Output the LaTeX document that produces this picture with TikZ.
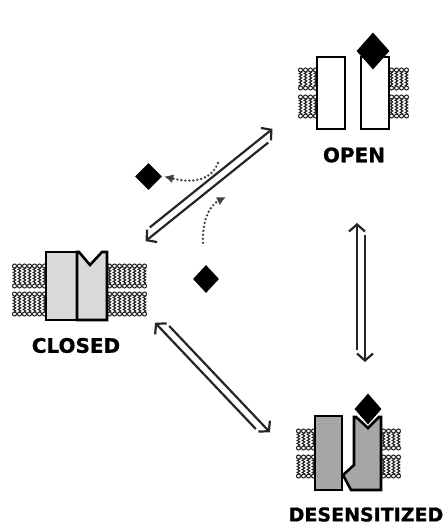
\documentclass[tikz,border=0pt]{standalone}
\usepackage{fontspec}
\setmainfont{DejaVu Sans}[BoldFeatures={FakeBold=0.8}]
\usetikzlibrary{arrows.meta,calc,shapes.geometric,decorations.pathmorphing}

% one block of lipids: #1 left x, #2 top y, #3 columns, #4 height
\newcommand{\lipidblock}[4]{%
  \foreach \i in {1,...,#3} {
    \pgfmathsetmacro{\lx}{#1+5*\i-2.5}
    \draw[lipid tail] (\lx,#2+3) -- (\lx,#2+#4-3);
    \draw[lipid head] (\lx,#2+2) circle (2pt);
    \draw[lipid head] (\lx,#2+#4-2) circle (2pt);
  }%
}

% reversible step: two parallel half arrows between #1 and #2
\newcommand{\equil}[2]{%
  \draw[eq line] ($(#1)!4pt!90:(#2)$) -- ($(#2)!4pt!-90:(#1)$);
  \draw[eq line] ($(#2)!4pt!90:(#1)$) -- ($(#1)!4pt!-90:(#2)$);
}

\begin{document}
\begin{tikzpicture}[x=1pt, y=-1pt,
    lipid tail/.style={black!90, line width=1pt, decorate,
      decoration={snake, amplitude=1.3pt, segment length=3pt}},
    lipid head/.style={black!90, fill=white, line width=1pt},
    channel/.style={draw=black, line width=2.6pt, line join=miter},
    ligand/.style={diamond, fill=black, inner sep=0pt},
    state label/.style={font=\bfseries\fontsize{20}{24}\selectfont},
    eq line/.style={black!85, line width=2.2pt, shorten <=12pt,
      -{Straight Barb[length=7pt, width=16pt]}},
    ligand path/.style={black!75, line width=2.6pt, line cap=round,
      dash pattern=on 0pt off 4pt, -{Latex[length=9pt, width=9pt]}}]
  \useasboundingbox (0,0) rectangle (446,526);

  % Membranes
  \lipidblock{298}{68}{4}{22}   \lipidblock{298}{95}{4}{23}
  \lipidblock{389}{68}{4}{22}   \lipidblock{389}{95}{4}{23}
  \lipidblock{12}{264}{7}{24}   \lipidblock{12}{292}{7}{24}
  \lipidblock{107}{264}{8}{24}  \lipidblock{107}{292}{8}{24}
  \lipidblock{296}{429}{4}{21}  \lipidblock{296}{455}{4}{23}
  \lipidblock{381}{429}{4}{21}  \lipidblock{381}{455}{4}{23}

  % Open channel
  \draw[channel, fill=white] (317,57) rectangle (345,129);
  \draw[channel, fill=white] (361,57) rectangle (389,129);
  \node[ligand, minimum width=33pt, minimum height=37pt] (agonist open) at (373,51) {};
  \node[state label] (open) at (354,155) {OPEN};

  % Closed channel
  \draw[channel, fill=black!15] (46,252) rectangle (77,320);
  \draw[channel, fill=black!15] (77,252) -- (79,252) -- (90,265) -- (102,252)
    -- (107,252) -- (107,320) -- (77,320) -- cycle;
  \node[state label] (closed) at (76,345.5) {CLOSED};

  % Desensitized channel
  \draw[channel, fill=black!35] (315,416) rectangle (342,490);
  \draw[channel, fill=black!35] (354,417) -- (356,417) -- (368,428) -- (379,417)
    -- (381,417) -- (381,490) -- (351,490) -- (343,475) -- (354,465) -- cycle;
  \node[ligand, minimum width=27pt, minimum height=31pt] (agonist desens) at (368,409) {};
  \node[state label, font=\bfseries\fontsize{19}{23}\selectfont] (desens) at (366,514.5) {DESENSITIZED};

  % Free agonist
  \node[ligand, minimum width=27pt, minimum height=27pt] (agonist off) at (148.5,176.5) {};
  \node[ligand, minimum width=26pt, minimum height=28pt] (agonist on) at (206,279) {};

  % Transitions
  \coordinate (closed top) at (143,238);
  \coordinate (open left) at (275,132);
  \coordinate (open bottom) at (361,223);
  \coordinate (desens top) at (361,362);
  \coordinate (closed bottom) at (158,320);
  \coordinate (desens left) at (267,435);
  \equil{closed top}{open left}
  \equil{open bottom}{desens top}
  \equil{closed bottom}{desens left}

  % Binding and unbinding
  \coordinate (unbind start) at (218,163);
  \coordinate (bind end) at (226,197);
  \draw[ligand path] (unbind start) .. controls (212,179) and (195,184) .. ([xshift=2pt]agonist off.east);
  \draw[ligand path] (agonist on.north) ++(-3,-22) .. controls (202,224) and (208,206) .. (bind end);
\end{tikzpicture}
\end{document}
